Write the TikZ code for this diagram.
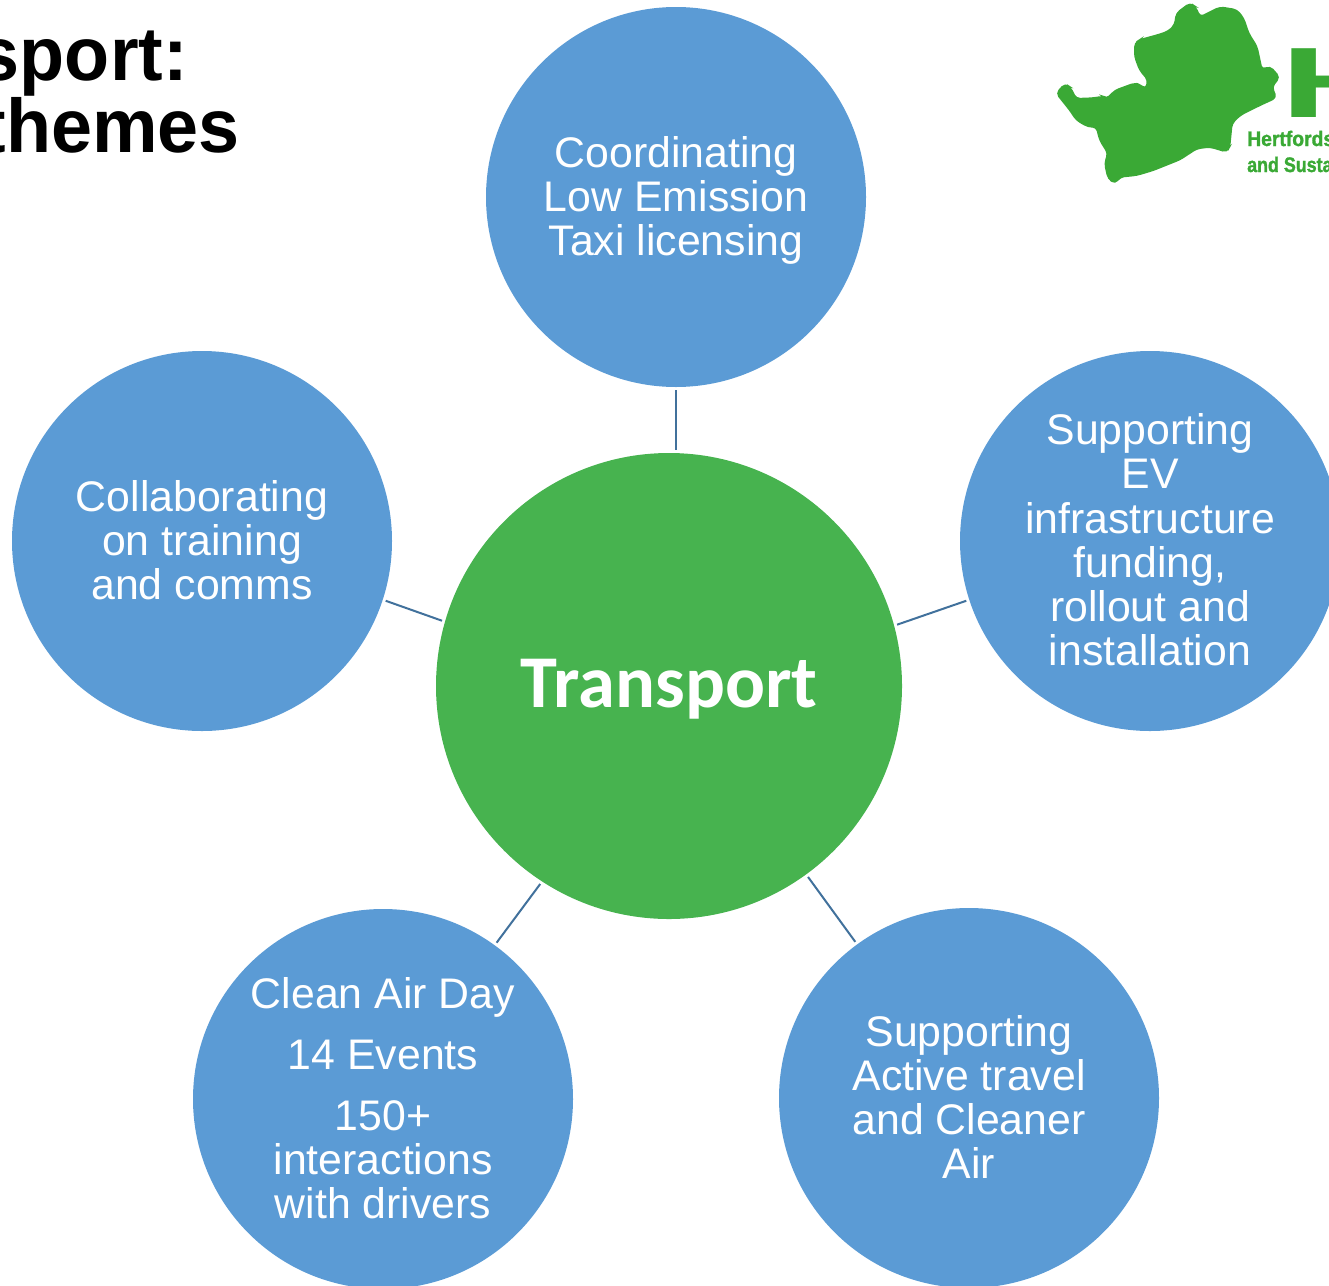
\documentclass[tikz,border=0pt]{standalone}
\usepackage{fontspec}
\setmainfont{Liberation Sans}
\newfontfamily\carl{Carlito}
\definecolor{themeblue}{HTML}{5B9BD5}
\definecolor{themegreen}{HTML}{47B34F}
\definecolor{linkblue}{HTML}{41719C}
\definecolor{logogreen}{HTML}{3AA935}
\newcommand\lowered[2]{\raisebox{#1}[\height][\depth]{#2}}
\tikzset{
 topic/.style={circle,fill=themeblue,minimum size=380pt,inner sep=0pt,text=white,align=center,font=\fontsize{42.8}{44}\selectfont},
 hub/.style={circle,fill=themegreen,minimum size=466pt,inner sep=0pt,text=white,font=\carl\bfseries\fontsize{74.5}{76}\selectfont},
 link/.style={draw=linkblue,line width=2pt,shorten >=3pt,shorten <=3pt},
 titletext/.style={anchor=base east,inner sep=0pt,font=\bfseries\fontsize{76}{80}\selectfont\addfontfeature{FakeStretch=0.97}},
 logotext/.style={anchor=base west,inner sep=0pt,text=logogreen,font=\bfseries\fontsize{21}{21}\selectfont}
}
\begin{document}
\begin{tikzpicture}[x=1pt,y=-1pt]
\useasboundingbox (0,0) rectangle (1329,1285);
\clip (0,0) rectangle (1329,1285);
\node[titletext] (t1) at (188,80) {sport:};
\node[titletext] (t2) at (240,152) {themes};
% logo
\begin{scope}[shift={(1040,0)},x=0.3333pt,y=-0.3333pt]
\filldraw[logogreen,line width=2pt,rounded corners=4pt] (50,280)--(75,252)--(90,262)--(108,297)--(160,295)--(190,290)--(200,298)--(225,272)--(285,250)--(300,255)--(318,268)--(325,240)--(300,210)--(285,170)--(285,130)--(300,120)--(355,105)--(385,95)--(405,75)--(410,40)--(450,10)--(465,20)--(480,52)--(540,22)--(590,30)--(610,55)--(625,100)--(650,140)--(665,210)--(690,200)--(718,232)--(695,260)--(708,293)--(660,315)--(600,345)--(575,370)--(568,440)--(560,455)--(510,440)--(470,445)--(420,478)--(390,490)--(340,510)--(290,525)--(240,530)--(225,550)--(205,535)--(195,490)--(205,460)--(180,420)--(170,380)--(145,380)--(110,360)--(90,330)--cycle;
\end{scope}
\node[anchor=base west,inner sep=0pt,text=logogreen,font=\bfseries\fontsize{100}{100}\selectfont] (lh) at (1280,117) {\addfontfeature{FakeStretch=1.7}H};
\node[logotext] (l1) at (1247,146) {\addfontfeature{FakeStretch=0.92,FakeBold=1.5}Hertfords};
\node[logotext] (l2) at (1247,172) {\addfontfeature{FakeStretch=0.85,FakeBold=1.5}and Susta};
% circles
\node[hub] (hubn) at (669,686) {\lowered{-3pt}{Transport}};
\node[topic] (top) at (676,197) {\lowered{-5.5pt}{\begin{tabular}{@{}c@{}}Coordinating\\Low Emission\\Taxi licensing\end{tabular}}};
\node[topic] (right) at (1150,541) {\lowered{-5.5pt}{\begin{tabular}{@{}c@{}}Supporting\\EV\\infrastructure\\funding,\\rollout and\\installation\end{tabular}}};
\node[topic] (left) at (202,541) {\lowered{-5.5pt}{\begin{tabular}{@{}c@{}}Collaborating\\on training\\and comms\end{tabular}}};
\node[topic] (bl) at (383,1099) {\lowered{-5.5pt}{\begin{tabular}{@{}c@{}}Clean Air Day\\[17pt]14 Events\\[17pt]150+\\interactions\\with drivers\end{tabular}}};
\node[topic] (br) at (969,1098) {\lowered{-5.5pt}{\begin{tabular}{@{}c@{}}Supporting\\Active travel\\and Cleaner\\Air\end{tabular}}};
\draw[link] (top.south) -- (top.south |- hubn.north);
\draw[link] (right.198) -- (hubn.15);
\draw[link] (left.-18) -- (hubn.164);
\draw[link] (bl.54) -- (hubn.-123);
\draw[link] (br) -- (hubn);
\end{tikzpicture}
\end{document}
